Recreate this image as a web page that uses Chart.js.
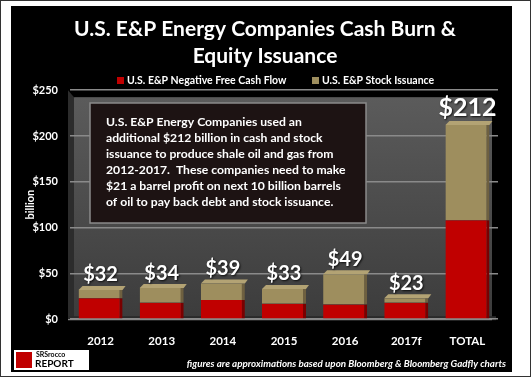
<!DOCTYPE html>
<html>
<head>
<meta charset="utf-8">
<script src="https://cdn.jsdelivr.net/npm/chart.js@4.4.1/dist/chart.umd.min.js"></script>
<style>
  html, body { margin: 0; padding: 0; background: #ffffff; }
  #wrap { width: 531px; height: 377px; position: relative; }
</style>
</head>
<body>
<div id="wrap"><canvas id="grafCash" width="531" height="377"></canvas></div>
<script>
const categorias = ['2012', '2013', '2014', '2015', '2016', '2017f', 'TOTAL'];
const flujoNegativo = [23, 18, 21, 17, 16, 18, 108];
const emisionAcciones = [9, 16, 18, 16, 33, 5, 104];
const totales = [32, 34, 39, 33, 49, 23, 212];
const ticksY = [0, 50, 100, 150, 200, 250];

const notaCaja = [
    'U.S. E&P Energy Companies used an',
    'additional $212 billion in cash and stock',
    'issuance to produce shale oil and gas from',
    '2012-2017.  These companies need to make',
    '$21 a barrel profit on next 10 billion barrels',
    'of oil to pay back debt and stock issuance.'
];

const FUENTE = 'Lato, "Open Sans", sans-serif';

// fondo negro, pared gris del grafico, leyenda, caja de texto, pie
const fondo = {
    id: 'fondo',
    beforeDraw(chart) {
        const ctx = chart.ctx;
        const a = chart.chartArea;
        ctx.save();
        ctx.fillStyle = '#ffffff';
        ctx.fillRect(0, 0, chart.width, chart.height);
        ctx.strokeStyle = '#333333';
        ctx.lineWidth = 1;
        ctx.strokeRect(0.5, 0.5, chart.width - 1, chart.height - 1);
        ctx.fillStyle = '#000000';
        ctx.fillRect(11, 6, 501, 366);

        // pared del fondo
        const g = ctx.createLinearGradient(0, a.top, 0, a.bottom);
        g.addColorStop(0, '#5c5c5c');
        g.addColorStop(1, '#3c3c3c');
        ctx.fillStyle = g;
        ctx.fillRect(a.left + 4, a.top + 7, a.right - a.left - 10, a.bottom - a.top - 9);
        // pared izquierda
        ctx.fillStyle = '#2c2c2c';
        ctx.beginPath();
        ctx.moveTo(a.left - 2, a.top);
        ctx.lineTo(a.left + 4, a.top + 7);
        ctx.lineTo(a.left + 4, a.bottom - 2);
        ctx.lineTo(a.left - 2, a.bottom);
        ctx.closePath();
        ctx.fill();
        // piso
        ctx.fillStyle = '#2a2a2a';
        ctx.fillRect(a.left - 2, a.bottom - 3, a.right - a.left, 4);
        ctx.strokeStyle = '#9a9a9a';
        ctx.beginPath();
        ctx.moveTo(a.left - 2, a.bottom + 0.5);
        ctx.lineTo(a.right - 6, a.bottom + 0.5);
        ctx.stroke();

        // leyenda
        const posLeyenda = [117, 312];
        ctx.font = 'bold 10.5px ' + FUENTE;
        ctx.textBaseline = 'middle';
        ctx.textAlign = 'left';
        chart.data.datasets.forEach((ds, i) => {
            ctx.fillStyle = ds.backgroundColor;
            ctx.fillRect(posLeyenda[i], 77, 7, 7);
            ctx.fillStyle = '#ffffff';
            ctx.fillText(ds.label, posLeyenda[i] + 10, 81);
        });
        ctx.restore();
    },
    afterDraw(chart) {
        const ctx = chart.ctx;
        ctx.save();
        // caja de texto
        ctx.fillStyle = '#1d1313';
        ctx.fillRect(90, 103, 276, 120);
        ctx.strokeStyle = '#8a8a8a';
        ctx.lineWidth = 1.5;
        ctx.strokeRect(90, 103, 276, 120);
        ctx.fillStyle = '#ffffff';
        ctx.font = 'bold 12.2px ' + FUENTE;
        ctx.textBaseline = 'middle';
        ctx.textAlign = 'left';
        notaCaja.forEach((linea, i) => {
            ctx.fillText(linea, 106, 122 + i * 16.1);
        });

        // logo
        ctx.fillStyle = '#ffffff';
        ctx.fillRect(14, 350, 75, 20);
        ctx.fillStyle = '#c00000';
        ctx.fillRect(16, 352, 16, 16);
        ctx.fillStyle = '#000000';
        ctx.font = 'bold 7px ' + FUENTE;
        ctx.fillText('SRSrocco', 36, 355);
        ctx.font = 'bold 10px ' + FUENTE;
        ctx.fillText('REPORT', 35, 364);

        // nota
        ctx.fillStyle = '#ffffff';
        ctx.font = 'italic bold 9.8px ' + FUENTE;
        ctx.textAlign = 'right';
        ctx.fillText('figures are approximations based upon Bloomberg & Bloomberg Gadfly charts', 506, 364);
        ctx.restore();
    }
};

// cara superior de las barras y etiquetas de total
const etiquetas = {
    id: 'etiquetas',
    afterDatasetsDraw(chart) {
        const ctx = chart.ctx;
        const meta = chart.getDatasetMeta(1);
        ctx.save();
        meta.data.forEach((bar) => {
            const izq = bar.x - bar.width / 2;
            ctx.fillStyle = '#b3a374';
            ctx.beginPath();
            ctx.moveTo(izq, bar.y);
            ctx.lineTo(izq + 4, bar.y - 4);
            ctx.lineTo(izq + bar.width + 3, bar.y - 4);
            ctx.lineTo(izq + bar.width, bar.y);
            ctx.closePath();
            ctx.fill();
        });
        ctx.fillStyle = '#ffffff';
        ctx.textAlign = 'center';
        ctx.textBaseline = 'bottom';
        ctx.shadowColor = 'rgba(0,0,0,0.8)';
        ctx.shadowOffsetX = 1;
        ctx.shadowOffsetY = 1;
        ctx.shadowBlur = 2;
        meta.data.forEach((bar, i) => {
            const grande = i === totales.length - 1;
            ctx.font = 'bold ' + (grande ? 25 : 20) + 'px ' + FUENTE;
            ctx.fillText('$' + totales[i], bar.x, bar.y - 5);
        });
        ctx.restore();
    }
};

const data = {
    labels: categorias,
    datasets: [
        {
            label: 'U.S. E&P Negative Free Cash Flow',
            data: flujoNegativo,
            backgroundColor: '#c00000',
            borderColor: '#7a0000',
            borderWidth: { right: 3 },
            barPercentage: 0.72,
            categoryPercentage: 1
        },
        {
            label: 'U.S. E&P Stock Issuance',
            data: emisionAcciones,
            backgroundColor: '#9e8e5e',
            borderColor: '#6e6040',
            borderWidth: { right: 3 },
            barPercentage: 0.72,
            categoryPercentage: 1
        }
    ]
};

const config = {
    type: 'bar',
    data: data,
    options: {
        responsive: false,
        animation: false,
        devicePixelRatio: 1,
        layout: {
            padding: { left: 32, right: 33, top: 4, bottom: 22 }
        },
        plugins: {
            title: {
                display: true,
                text: ['U.S. E&P Energy Companies Cash Burn &', 'Equity Issuance'],
                color: '#ffffff',
                font: { family: FUENTE, size: 21, weight: 'bold', lineHeight: 1.29 },
                padding: { top: 12, bottom: 20 }
            },
            legend: { display: false },
            tooltip: { enabled: false }
        },
        scales: {
            x: {
                stacked: true,
                grid: { display: false },
                border: { display: false },
                ticks: {
                    color: '#ffffff',
                    font: { family: FUENTE, size: 11.5, weight: 'bold' },
                    padding: 7
                }
            },
            y: {
                stacked: true,
                min: 0,
                max: 250,
                afterBuildTicks(axis) {
                    axis.ticks = ticksY.map(v => ({ value: v }));
                },
                afterFit(axis) {
                    axis.width = 38;
                },
                grid: { color: '#8a8a8a', drawTicks: false, lineWidth: 1.5 },
                border: { display: false },
                title: {
                    display: true,
                    text: 'billion',
                    color: '#ffffff',
                    font: { family: FUENTE, size: 11, weight: 'bold' },
                    padding: { top: -8, bottom: 4 }
                },
                ticks: {
                    color: '#ffffff',
                    font: { family: FUENTE, size: 11, weight: 'bold' },
                    padding: 12,
                    callback: function (v) {
                        return '$' + v;
                    }
                }
            }
        }
    },
    plugins: [fondo, etiquetas]
};

const ctx = document.getElementById('grafCash').getContext('2d');
window.graficaCash = new Chart(ctx, config);
</script>
</body>
</html>
